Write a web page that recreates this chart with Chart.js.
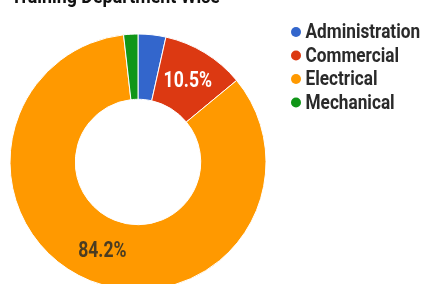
<!DOCTYPE html>
<html>
<head>
<meta charset="utf-8">
<script src="https://cdn.jsdelivr.net/npm/chart.js@4/dist/chart.umd.min.js"></script>
<style>
  html, body { margin: 0; padding: 0; background: #fff; overflow: hidden; }
  #wrap { position: absolute; left: 0; top: 0; width: 423px; height: 310px; }
</style>
</head>
<body>
<div id="wrap"><canvas id="myChart" width="423" height="310"></canvas></div>
<script>
// chart data
var title = "Training Department Wise"
var departments = ["Administration", "Commercial", "Electrical", "Mechanical"]
var shares = [3.5, 10.5, 84.2, 1.8]
var colors = ["#3366CC", "#DC3912", "#FF9900", "#109618"]
var labelColors = ["#ffffff", "#ffffff", "#4a3c22", "#ffffff"]

var FONT = "Roboto, 'Liberation Sans', sans-serif"

// draws text squeezed horizontally to look like a condensed face
function narrowText(ctx, text, x, y, squeeze) {
    var w = ctx.measureText(text).width
    ctx.fillText(text, x, y, w * squeeze)
    return w * squeeze
}

var extras = {
    id: "extras",
    afterDraw: function(chart) {
        var ctx = chart.ctx
        var meta = chart.getDatasetMeta(0)
        var total = shares.reduce(function(a, b) { return a + b }, 0)
        ctx.save()

        // title (partly cut off at the top like the original)
        ctx.fillStyle = "#111"
        ctx.font = "bold 21px " + FONT
        ctx.textAlign = "left"
        ctx.textBaseline = "alphabetic"
        narrowText(ctx, title, 11, 3, 0.85)

        // percentages on the big slices
        ctx.font = "bold 22px " + FONT
        ctx.textAlign = "center"
        ctx.textBaseline = "middle"
        meta.data.forEach(function(arc, i) {
            var pct = shares[i] / total * 100
            if (pct < 5) return
            var p = arc.tooltipPosition()
            ctx.fillStyle = labelColors[i]
            narrowText(ctx, pct.toFixed(1) + "%", p.x, p.y + 1, 0.8)
        })

        // legend
        ctx.font = "bold 21px " + FONT
        ctx.textAlign = "left"
        departments.forEach(function(name, i) {
            var y = 32 + i * 23.5
            ctx.fillStyle = colors[i]
            ctx.beginPath()
            ctx.arc(296, y, 5, 0, Math.PI * 2)
            ctx.fill()
            ctx.fillStyle = "#2a2a2a"
            narrowText(ctx, name, 305.5, y + 1, 0.82)
        })
        ctx.restore()
    }
}

var chart = new Chart(document.getElementById("myChart").getContext("2d"), {
    type: "doughnut",
    data: {
        labels: departments,
        datasets: [{
            data: shares,
            backgroundColor: colors,
            borderColor: "#ffffff",
            borderWidth: 1,
            hoverOffset: 0
        }]
    },
    options: {
        responsive: false,
        animation: false,
        cutout: "49%",
        layout: { padding: { left: 9.5, top: 33.5, right: 156.5, bottom: 19.5 } },
        plugins: {
            legend: { display: false },
            title: { display: false },
            tooltip: { enabled: false }
        }
    },
    plugins: [extras]
})
</script>
</body>
</html>
